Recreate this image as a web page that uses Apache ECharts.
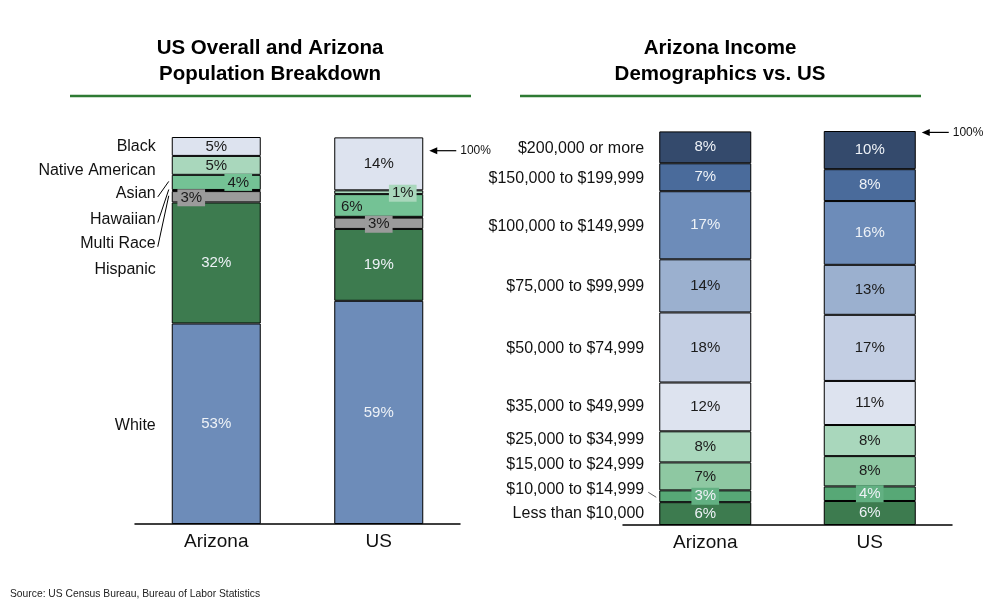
<!DOCTYPE html>
<html>
<head>
<meta charset="utf-8">
<script src="https://cdn.jsdelivr.net/npm/echarts@6/dist/echarts.min.js"></script>
<style>
  html, body { margin: 0; background: #fff; }
  #container { width: 1008px; height: 610px; }
</style>
</head>
<body>
<div id="container"></div>
<script>
// data, bottom segment first
const places = ['Arizona', 'US'];

const raceCats = ['White', 'Hispanic', 'Multi Race', 'Hawaiian', 'Asian', 'Native American', 'Black'];
const raceAZ = [53, 32, 3, 0.3, 4, 5, 5];
const raceUS = [59, 19, 3, 0.2, 6, 1, 14];

const incomeCats = ['Less than $10,000', '$10,000 to $14,999', '$15,000 to $24,999', '$25,000 to $34,999',
    '$35,000 to $49,999', '$50,000 to $74,999', '$75,000 to $99,999', '$100,000 to $149,999',
    '$150,000 to $199,999', '$200,000 or more'];
const incomeAZ = [5.8, 3.0, 7.1, 7.9, 12.4, 17.8, 13.5, 17.3, 7.1, 8.1];
const incomeUS = [6.1, 3.7, 7.7, 7.9, 11.2, 16.8, 12.7, 16.2, 8.1, 9.7];

// styles
const FONT = '"Liberation Sans", Arial, sans-serif';
const raceColors = ['#6d8cb9', '#3d7b4f', '#9b9b9b', '#111111', '#74c295', '#a9d7bc', '#dde3ef'];
const incomeColors = ['#3d7b4f', '#57a876', '#8ec8a2', '#a9d7bc', '#dde3ef', '#c3cee3', '#9bb0cf', '#6d8cb9', '#4a6b9b', '#344a6c'];
const lightLabels = ['White', 'Hispanic', 'Less than $10,000', '$10,000 to $14,999',
    '$100,000 to $149,999', '$150,000 to $199,999', '$200,000 or more'];
const noLabel = ['Hawaiian'];

// labels that sit off-center or on a small box
const tweaks = {
    'Asian|Arizona': { offset: [22, 0], backgroundColor: '#74c295', padding: [1, 3] },
    'Multi Race|Arizona': { offset: [-25, 1], backgroundColor: '#9b9b9b', padding: [1, 3] },
    'Native American|US': { offset: [24, 1], backgroundColor: '#a9d7bc', padding: [1, 3] },
    'Asian|US': { offset: [-27, 1] },
    'Multi Race|US': { offset: [0, 1], backgroundColor: '#9b9b9b', padding: [1, 3] },
    '$10,000 to $14,999|Arizona': { backgroundColor: '#62b082', padding: [1, 3] },
    '$10,000 to $14,999|US': { backgroundColor: '#62b082', padding: [1, 3] }
};

const sum = arr => arr.reduce((a, b) => a + b, 0);

const makeSeries = (cats, az, us, colors, stack, axis, barWidth) => cats.map((name, i) => ({
    name: name,
    type: 'bar',
    stack: stack,
    xAxisIndex: axis,
    yAxisIndex: axis,
    barWidth: barWidth,
    itemStyle: { color: colors[i], borderColor: '#000', borderWidth: 1 },
    label: {
        show: !noLabel.includes(name),
        position: 'inside',
        fontFamily: FONT,
        fontSize: 15,
        color: lightLabels.includes(name) ? '#eef2f7' : '#1b1b1b',
        formatter: p => Math.round(p.value) + '%'
    },
    data: [az[i], us[i]].map((v, j) => {
        let t = tweaks[name + '|' + places[j]];
        return t ? { value: v, label: t } : v;
    })
}));

const axisStyle = {
    type: 'category',
    data: places,
    axisLine: { lineStyle: { color: '#000', width: 1.5 } },
    axisTick: { show: false },
    axisLabel: { fontFamily: FONT, fontSize: 19, color: '#111', margin: 8 }
};

var dom = document.getElementById('container');
var myChart = echarts.init(dom, null, { renderer: 'canvas' });

myChart.setOption({
    animation: false,
    grid: [
        { left: 135, right: 548, top: 137, bottom: 86 },
        { left: 623, right: 56, top: 131, bottom: 85 }
    ],
    xAxis: [
        Object.assign({ gridIndex: 0 }, axisStyle),
        Object.assign({ gridIndex: 1 }, axisStyle)
    ],
    yAxis: [
        { gridIndex: 0, type: 'value', min: 0, max: Math.max(sum(raceAZ), sum(raceUS)), show: false },
        { gridIndex: 1, type: 'value', min: 0, max: Math.max(sum(incomeAZ), sum(incomeUS)), show: false }
    ],
    series: makeSeries(raceCats, raceAZ, raceUS, raceColors, 'race', 0, 89)
        .concat(makeSeries(incomeCats, incomeAZ, incomeUS, incomeColors, 'income', 1, 92))
});

// annotations tied to the axes
const px = (axis, place, v) => myChart.convertToPixel({ xAxisIndex: axis, yAxisIndex: axis }, [place, v]);
const text = (x, y, str, size, extra) => ({
    type: 'text', x: x, y: y, silent: true,
    style: Object.assign({ text: str, fontFamily: FONT, fontSize: size, fill: '#111', align: 'right', verticalAlign: 'middle' }, extra || {})
});
const line = (x1, y1, x2, y2, stroke, w) => ({
    type: 'line', silent: true,
    shape: { x1: x1, y1: y1, x2: x2, y2: y2 },
    style: { stroke: stroke || '#000', lineWidth: w || 1 }
});
const arrow = (x, y) => [
    line(x + 5, y, x + 27, y, '#000', 1.2),
    { type: 'polygon', silent: true, shape: { points: [[x, y], [x + 8, y - 3.5], [x + 8, y + 3.5]] }, style: { fill: '#000' } },
    text(x + 31, y, '100%', 12, { align: 'left' })
];

let graphics = [];

// titles and green rules
const titleStyle = { align: 'center', fontWeight: 'bold', fill: '#000' };
graphics.push(text(270, 48, 'US Overall and Arizona', 20.5, titleStyle));
graphics.push(text(270, 74, 'Population Breakdown', 20.5, titleStyle));
graphics.push(text(720, 48, 'Arizona Income', 20.5, titleStyle));
graphics.push(text(720, 74, 'Demographics vs. US', 20.5, titleStyle));
graphics.push(line(70, 96, 471, 96, '#2e7a33', 2.5));
graphics.push(line(520, 96, 921, 96, '#2e7a33', 2.5));

// left chart category names
const raceDy = [1.5, 7, 47, 29, 11.5, 5, 0];
const leftEdge0 = px(0, 'Arizona', 0)[0] - 89 / 2;
let acc = 0;
raceCats.forEach((name, i) => {
    let mid = px(0, 'Arizona', acc + raceAZ[i] / 2)[1];
    let ly = mid + raceDy[i];
    graphics.push(text(leftEdge0 - 16, ly, name, 16));
    if (['Asian', 'Hawaiian', 'Multi Race'].includes(name)) {
        graphics.push(line(leftEdge0 - 14, ly + 3, leftEdge0 - 3, mid - 1));
    }
    acc += raceAZ[i];
});

// right chart category names
const incomeDy = [0.5, -7, -12, -7, 0, 1, 1, 1, 1, 1];
const leftEdge1 = px(1, 'Arizona', 0)[0] - 92 / 2;
acc = 0;
incomeCats.forEach((name, i) => {
    let mid = px(1, 'Arizona', acc + incomeAZ[i] / 2)[1];
    let ly = mid + incomeDy[i];
    graphics.push(text(leftEdge1 - 15, ly, name, 16));
    if (name === '$10,000 to $14,999') {
        graphics.push(line(leftEdge1 - 11, ly + 3, leftEdge1 - 3, mid + 1, '#333', 0.8));
    }
    acc += incomeAZ[i];
});

// 100% markers next to the US bars
let p0 = px(0, 'US', 100);
graphics = graphics.concat(arrow(p0[0] + 89 / 2 + 6, p0[1] + 5));
let p1 = px(1, 'US', 100);
graphics = graphics.concat(arrow(p1[0] + 92 / 2 + 6, p1[1] + 1));

// source line
graphics.push(text(10, 594, 'Source: US Census Bureau, Bureau of Labor Statistics', 10.3, { align: 'left', fill: '#222' }));

myChart.setOption({ graphic: graphics });
</script>
</body>
</html>
